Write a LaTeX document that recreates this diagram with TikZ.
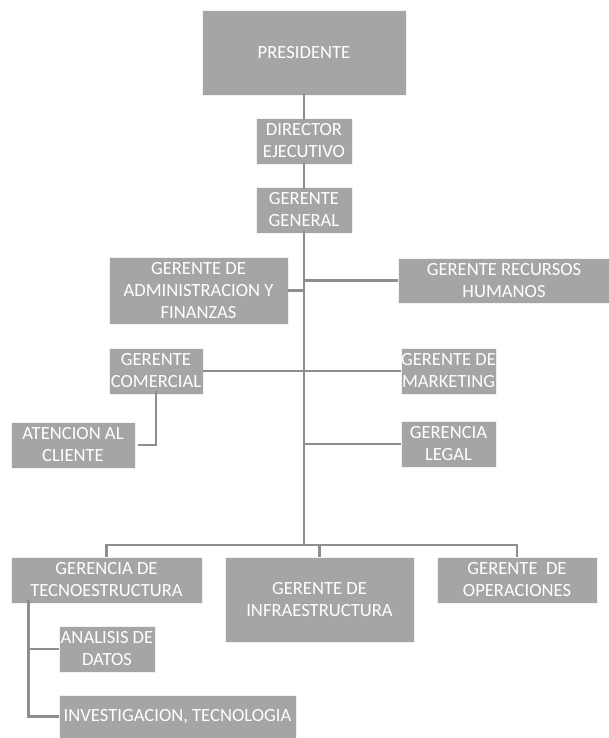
\documentclass[tikz,border=0pt]{standalone}
\usepackage{fontspec}
\setmainfont{Carlito}
\usepackage{tikz}
\usetikzlibrary{positioning,calc}
\definecolor{cajagris}{HTML}{A5A5A5}
\definecolor{lineagris}{HTML}{8E8E8E}
\tikzset{every node/.append style={scale=1}}
\tikzset{cargo/.style={fill=cajagris, draw=white!85!cajagris, line width=0.6pt, text=white,
        align=center, inner sep=0pt, font=\fontsize{18.6}{22}\selectfont},
    enlace/.style={draw=lineagris, line width=2.8pt}}

\begin{document}
\begin{tikzpicture}[x=1pt, y=-1pt]
            \useasboundingbox (0,0) rectangle (609,738);% page frame
            % top of the chart
            \node[cargo, minimum width=204, minimum height=85] (pres) at (304,52.5) {PRESIDENTE};
            \node[cargo, minimum width=96, minimum height=46] (dir) at (304,141) {DIRECTOR\\EJECUTIVO};
            \node[cargo, minimum width=96, minimum height=46] (gg) at (304,210) {GERENTE\\GENERAL};
            % managers beside the trunk
            \node[cargo, minimum width=179, minimum height=67] (adm) at (198.5,290.5) {GERENTE DE\\ADMINISTRACION Y\\FINANZAS};
            \node[cargo, minimum width=211, minimum height=45] (rrhh) at (504,280.5) {GERENTE RECURSOS\\HUMANOS};
            \node[cargo, minimum width=94, minimum height=46] (com) at (156,371) {GERENTE\\COMERCIAL};
            \node[cargo, minimum width=95, minimum height=46] (mkt) at (448.5,371) {GERENTE DE\\MARKETING};
            \node[cargo, minimum width=124, minimum height=46] (atc) at (73,445) {ATENCION AL\\CLIENTE};
            \node[cargo, minimum width=95, minimum height=46] (leg) at (448.5,444) {GERENCIA\\LEGAL};
            % bottom row
            \node[cargo, minimum width=191, minimum height=46] (tec) at (106.5,580) {GERENCIA DE\\TECNOESTRUCTURA};
            \node[cargo, minimum width=189, minimum height=85] (inf) at (319.5,599.5) {GERENTE DE\\INFRAESTRUCTURA};
            \node[cargo, minimum width=160, minimum height=46] (ope) at (517,580) {GERENTE\ \ DE\\OPERACIONES};
            \node[cargo, minimum width=96, minimum height=46] (ana) at (107,649) {ANALISIS DE\\DATOS};
            \node[cargo, minimum width=237, minimum height=43] (inv) at (177.5,716.5) {INVESTIGACION, TECNOLOGIA};
            % connectors
            \coordinate (bar) at (304,545);% level of the bottom bar
            \draw[enlace] ([yshift=2]pres.south) -- ([yshift=-2]dir.north);
            \draw[enlace] ([yshift=2]dir.south) -- ([yshift=-2]gg.north);
            \draw[enlace] ([yshift=2]gg.south) -- (bar);% the trunk
            \draw[enlace] (adm.east) -- (adm.east -| gg.south);
            \draw[enlace] (rrhh.west) -- (rrhh.west -| gg.south);
            \draw[enlace] (com.east) -- (mkt.west);
            \draw[enlace] ([yshift=3]com.south) |- ([xshift=3]atc.east);
            \draw[enlace] (leg.west) -- (leg.west -| gg.south);
            \draw[enlace] (tec.north) |- (bar) -| (ope.north);% bottom bar
            \draw[enlace] (inf.north) -- (inf.north |- bar);
            \draw[enlace] ([xshift=18,yshift=3]tec.south west) coordinate (tecb) |- (ana.west);
            \draw[enlace] (tecb) |- (inv.west);
\end{tikzpicture}
\end{document}
